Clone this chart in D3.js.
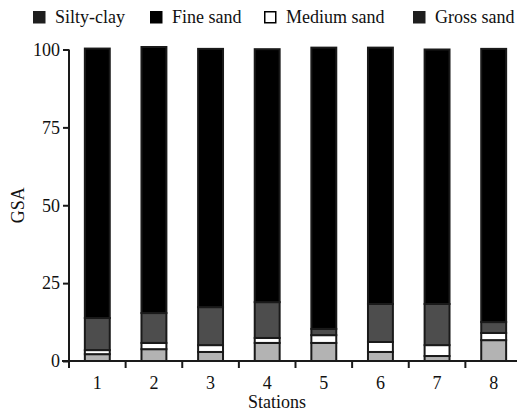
<!DOCTYPE html>
<html>
<head>
<meta charset="utf-8">
<script src="https://cdn.jsdelivr.net/npm/d3@7"></script>
<style>
  body { margin: 0; background: #fff; }
  svg { display: block; }
  svg text { font-family: "Liberation Serif", "DejaVu Serif", serif; }
</style>
</head>
<body>
<div id="container"></div>
<script>
const stations = ['1', '2', '3', '4', '5', '6', '7', '8'];
const yTicks = [0, 25, 50, 75, 100];

// stacked from the bottom up
const siltyClay = [2.2, 3.8, 2.9, 5.8, 5.8, 2.9, 1.6, 6.7];
const mediumSand = [1.3, 2.0, 2.2, 1.6, 2.5, 3.2, 3.5, 2.3];
const grossSand = [10.3, 9.6, 12.2, 11.5, 2.0, 12.2, 13.2, 3.5];
const fineSand = [86.5, 85.4, 82.9, 81.2, 90.3, 82.3, 81.7, 87.7];

const legendNames = ['Silty-clay', 'Fine sand', 'Medium sand', 'Gross sand'];
const legendFill = ['#1e1e1e', '#000', '#fff', '#1e1e1e'];

const series = [
    { key: 'Silty-clay', values: siltyClay, fill: '#b3b3b3' },
    { key: 'Medium sand', values: mediumSand, fill: '#fff' },
    { key: 'Gross sand', values: grossSand, fill: '#4d4d4d' },
    { key: 'Fine sand', values: fineSand, fill: '#000' }
];

const width = 517, height = 412;
const ink = '#1a1a1a';
const serif = '"Liberation Serif", "DejaVu Serif", serif';
const fs = 18;

const svg = d3.select('#container')
    .append('svg')
    .attr('width', width)
    .attr('height', height)
    .attr('font-family', serif);

const x = d3.scaleBand()
    .domain(stations)
    .range([69, 522])
    .paddingInner(0.56)
    .paddingOuter(0.28);

const y = d3.scaleLinear()
    .domain([0, 100])
    .range([361, 49.5]);

// stack layout
const rows = stations.map((s, i) => {
    const r = { station: s };
    series.forEach(se => r[se.key] = se.values[i]);
    return r;
});
const stacked = d3.stack().keys(series.map(s => s.key))(rows);

svg.append('g')
    .selectAll('g')
    .data(stacked)
    .join('g')
    .attr('fill', (d, i) => series[i].fill)
    .selectAll('rect')
    .data(d => d)
    .join('rect')
    .attr('x', d => x(d.data.station))
    .attr('y', d => y(d[1]))
    .attr('width', x.bandwidth())
    .attr('height', d => y(d[0]) - y(d[1]))
    .attr('stroke', ink)
    .attr('stroke-width', 2);

// y axis
const yAxis = svg.append('g')
    .attr('transform', `translate(${x.range()[0]},0)`)
    .call(d3.axisLeft(y).tickValues(yTicks).tickSize(6).tickSizeOuter(0).tickPadding(3))
    .attr('font-family', serif)
    .attr('font-size', fs);
yAxis.select('.domain').attr('stroke', ink).attr('stroke-width', 2)
    .attr('d', `M0,${y(100)}V${y(0) + 6}`);
yAxis.selectAll('.tick line').attr('stroke', ink).attr('stroke-width', 2);
yAxis.selectAll('.tick text').attr('fill', '#111');

// x axis: ticks between stations, labels centred
const xAxis = svg.append('g');
xAxis.append('line')
    .attr('x1', 62).attr('x2', width)
    .attr('y1', y(0)).attr('y2', y(0))
    .attr('stroke', ink).attr('stroke-width', 2);
const half = x.step() * x.paddingOuter();
xAxis.selectAll('.xtick')
    .data(stations)
    .join('line')
    .attr('class', 'xtick')
    .attr('x1', d => x(d) - half).attr('x2', d => x(d) - half)
    .attr('y1', y(0)).attr('y2', y(0) + 7)
    .attr('stroke', ink).attr('stroke-width', 2);
xAxis.selectAll('.xlab')
    .data(stations)
    .join('text')
    .attr('class', 'xlab')
    .attr('x', d => x(d) + x.bandwidth() / 2)
    .attr('y', 389)
    .attr('text-anchor', 'middle')
    .attr('font-size', fs)
    .attr('fill', '#111')
    .text(d => d);

svg.append('text')
    .attr('x', 277).attr('y', 408)
    .attr('text-anchor', 'middle')
    .attr('font-size', fs)
    .attr('fill', '#111')
    .text('Stations');

svg.append('text')
    .attr('transform', `translate(24,${(y(0) + y(100)) / 2}) rotate(-90)`)
    .attr('text-anchor', 'middle')
    .attr('font-size', fs)
    .attr('fill', '#111')
    .text('GSA');

// legend
const legendX = [33, 150, 264, 413];
const legend = svg.append('g')
    .selectAll('g')
    .data(legendNames)
    .join('g')
    .attr('transform', (d, i) => `translate(${legendX[i]},11)`);
legend.append('rect')
    .attr('x', 0.75).attr('y', 0.75)
    .attr('width', 11).attr('height', 11)
    .attr('fill', (d, i) => legendFill[i])
    .attr('stroke', (d, i) => legendFill[i] === '#fff' ? '#000' : legendFill[i])
    .attr('stroke-width', 1.5);
legend.append('text')
    .attr('x', 22).attr('y', 12)
    .attr('font-size', fs)
    .attr('fill', '#111')
    .text(d => d);
</script>
</body>
</html>
